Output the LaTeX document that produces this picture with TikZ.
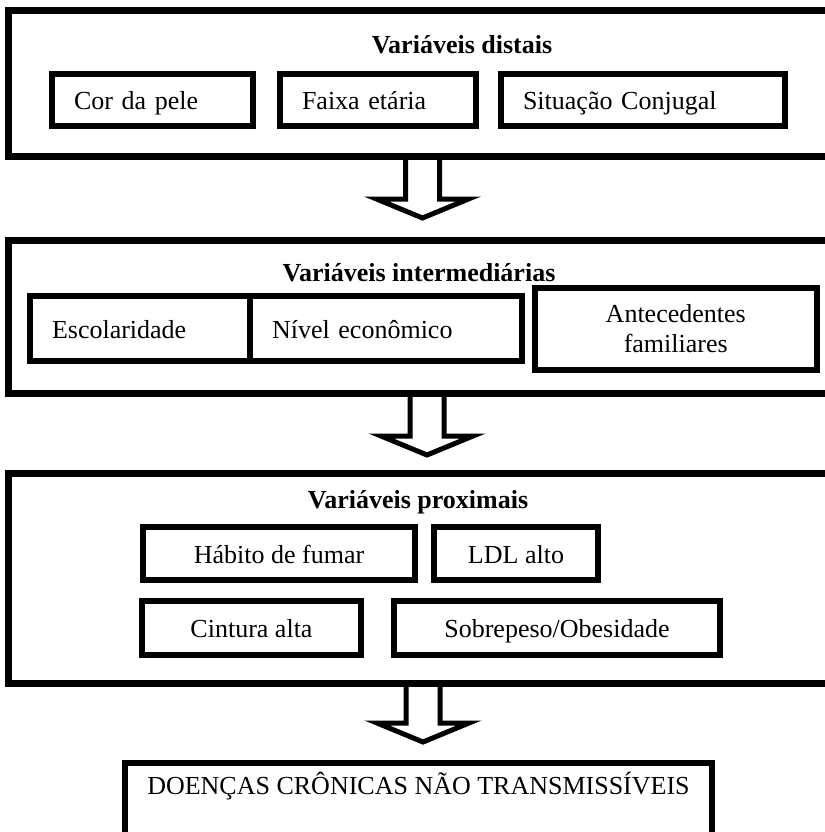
\documentclass[tikz,border=0pt]{standalone}
\usepackage{fontspec}
\setmainfont{Liberation Serif}
\usetikzlibrary{calc}

% hollow block arrow from a point on a box border down to a tip
\newcommand{\hollowarrow}[2]{%
  \draw[hollow] ($(#1)+(-17,0)$) -- ($(#2)+(-17,-19)$) -- ($(#2)+(-46,-19)$) -- (#2)
    -- ($(#2)+(46,-19)$) -- ($(#2)+(17,-19)$) -- ($(#1)+(17,0)$);}

\begin{document}
\begin{tikzpicture}[x=1pt, y=-1pt,
    every node/.style={font=\fontsize{26}{30}\selectfont, outer sep=0pt, text height=22pt, text depth=3pt},
    groupbox/.style={draw, line width=7pt, anchor=north west, inner sep=0pt},
    varbox/.style={draw, line width=6pt, anchor=north west, inner xsep=22pt, inner ysep=0pt, align=left, text width=#1},
    midbox/.style={draw, line width=6pt, anchor=north west, inner sep=0pt, align=center},
    title/.style={font=\fontsize{26}{30}\selectfont\bfseries},
    hollow/.style={line width=5pt, line join=miter}]
    \useasboundingbox (0,0) rectangle (824,832);

    % Distal level
    \node[groupbox, minimum width=820pt, minimum height=145.5pt] (dist) at (8.5,10.5) {};
    \node[title] (distT) at (462,44) {Variáveis distais};
    \node[varbox=157pt, minimum height=52pt] (cor) at (52,74) {Cor da pele};
    \node[varbox=152pt, minimum height=52pt] (faixa) at (280,74) {Faixa etária};
    \node[varbox=240pt, minimum height=52pt] (conj) at (501,74) {Situação Conjugal};

    % Intermediate level
    \node[groupbox, minimum width=820pt, minimum height=153pt] (inter) at (8.5,240) {};
    \node[title] (interT) at (419,272) {Variáveis intermediárias};
    \node[varbox=176pt, minimum height=65pt] (escol) at (30,296) {Escolaridade};
    \node[varbox=228pt, minimum height=65pt] (nivel) at (250,296) {Nível econômico};
    \node[midbox, minimum width=282.5pt, minimum height=82pt, text height={}, text depth={}] (antec) at (534.5,288) {Antecedentes\\familiares};

    % Proximal level
    \node[groupbox, minimum width=820pt, minimum height=210pt] (prox) at (8.5,473) {};
    \node[title] (proxT) at (418,499) {Variáveis proximais};
    \node[midbox, minimum width=272pt, minimum height=53pt] (fumo) at (143,527) {Hábito de fumar};
    \node[midbox, minimum width=164pt, minimum height=53pt] (ldl) at (434,527) {LDL alto};
    \node[midbox, minimum width=219pt, minimum height=54pt] (cint) at (142,601) {Cintura alta};
    \node[midbox, minimum width=326pt, minimum height=54pt] (peso) at (394,601) {Sobrepeso/Obesidade};

    % Outcome
    \node[draw, line width=6pt, anchor=north west, minimum width=587pt, minimum height=72pt,
          text depth=32pt, inner sep=0pt] (dcnt) at (125,763) {DOENÇAS CRÔNICAS NÃO TRANSMISSÍVEIS};

    % Arrows between levels
    \coordinate (t1) at (422.5,218);
    \coordinate (t2) at (427,455);
    \coordinate (t3) at (423,742);
    \coordinate (s1) at (dist.south -| t1);
    \coordinate (s2) at (inter.south -| t2);
    \coordinate (s3) at (prox.south -| t3);
    \hollowarrow{s1}{t1}
    \hollowarrow{s2}{t2}
    \hollowarrow{s3}{t3}
\end{tikzpicture}
\end{document}
